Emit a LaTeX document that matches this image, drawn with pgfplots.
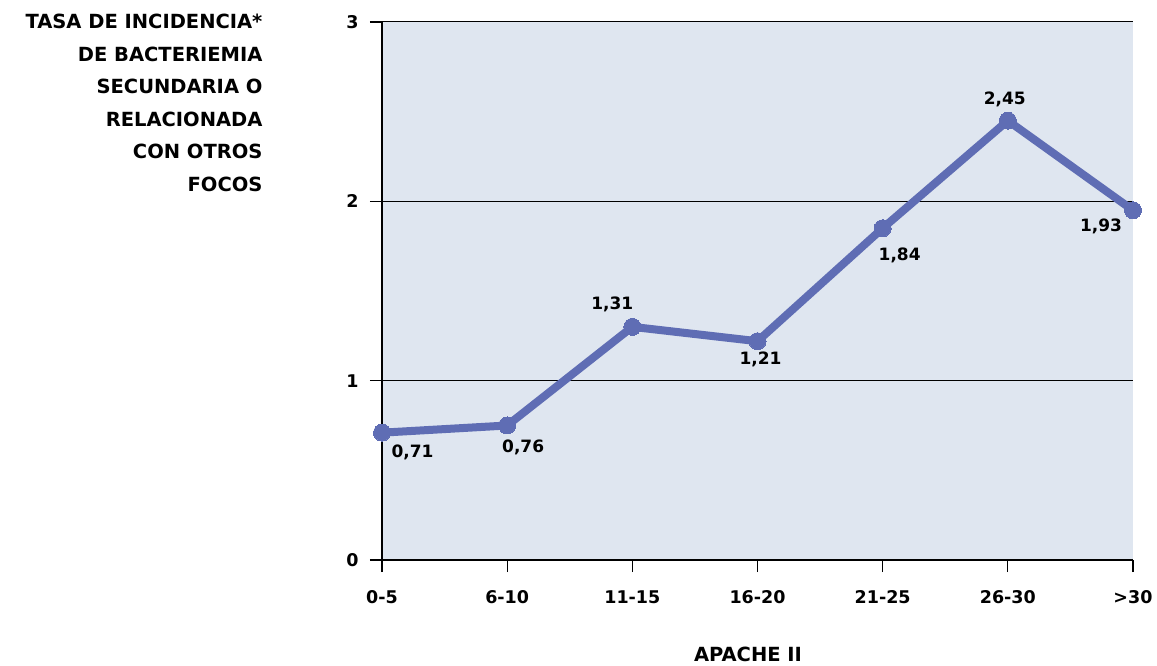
\documentclass[border=0pt]{standalone}
\usepackage{pgfplots}
\pgfplotsset{compat=1.18}
\usepackage{fontspec}
\setmainfont{DejaVu Sans}
\definecolor{bgc}{HTML}{DFE6F0}
\definecolor{linec}{HTML}{5F6DB4}
\begin{document}
\begin{tikzpicture}[font=\fontsize{17}{20}\selectfont\bfseries]
\useasboundingbox (-382pt,-106pt) rectangle (775pt,560pt);
\begin{axis}[
  at={(0pt,0pt)}, anchor=south west,
  width=751pt, height=538pt, scale only axis,
  xmin=0, xmax=6, ymin=0, ymax=3,
  axis x line=bottom, axis y line=left,
  axis line style={black, line width=1.3pt, -},
  axis background/.style={fill=bgc},
  xtick={0,...,6},
  xticklabels={0-5,6-10,11-15,16-20,21-25,26-30,>30},
  ytick={0,1,2,3},
  ymajorgrids, grid style={black, line width=1pt},
  tick align=outside, major tick length=12pt,
  tick style={black, line width=1.3pt},
  /pgf/number format/assume math mode=true,
  ticklabel style={font=\fontsize{17.5}{20}\selectfont\bfseries},
  yticklabel style={xshift=-8pt},
  xticklabel style={yshift=-15pt},
  clip=false,
]
\addplot[color=linec, line width=8pt, mark=*, mark size=8.5pt, mark options={fill=linec, draw=linec, line width=0pt}] coordinates {
(0,0.71) (1,0.75) (2,1.30) (3,1.22) (4,1.85) (5,2.45) (6,1.95)
};
\node[anchor=north west] at (axis cs:0,0.71) [xshift=6pt,yshift=-9pt] {0,71};
\node[anchor=north] at (axis cs:1,0.75) [xshift=16pt,yshift=-11pt] {0,76};
\node[anchor=south] at (axis cs:2,1.30) [xshift=-20pt,yshift=11pt] {1,31};
\node[anchor=north] at (axis cs:3,1.22) [xshift=3pt,yshift=-7pt] {1,21};
\node[anchor=north] at (axis cs:4,1.85) [xshift=17pt,yshift=-16pt] {1,84};
\node[anchor=south] at (axis cs:5,2.45) [xshift=-3pt,yshift=10pt] {2,45};
\node[anchor=north] at (axis cs:6,1.95) [xshift=-32pt,yshift=-5pt] {1,93};
\end{axis}
\node[anchor=north east, align=right, font=\fontsize{19.5}{32.5}\selectfont\bfseries] at (-116pt,549pt) {TASA DE INCIDENCIA*\\DE BACTERIEMIA\\SECUNDARIA O\\RELACIONADA\\CON OTROS\\FOCOS};
\node[anchor=center, font=\fontsize{19.5}{22}\selectfont\bfseries] at (366pt,-94pt) {APACHE II};
\end{tikzpicture}
\end{document}
